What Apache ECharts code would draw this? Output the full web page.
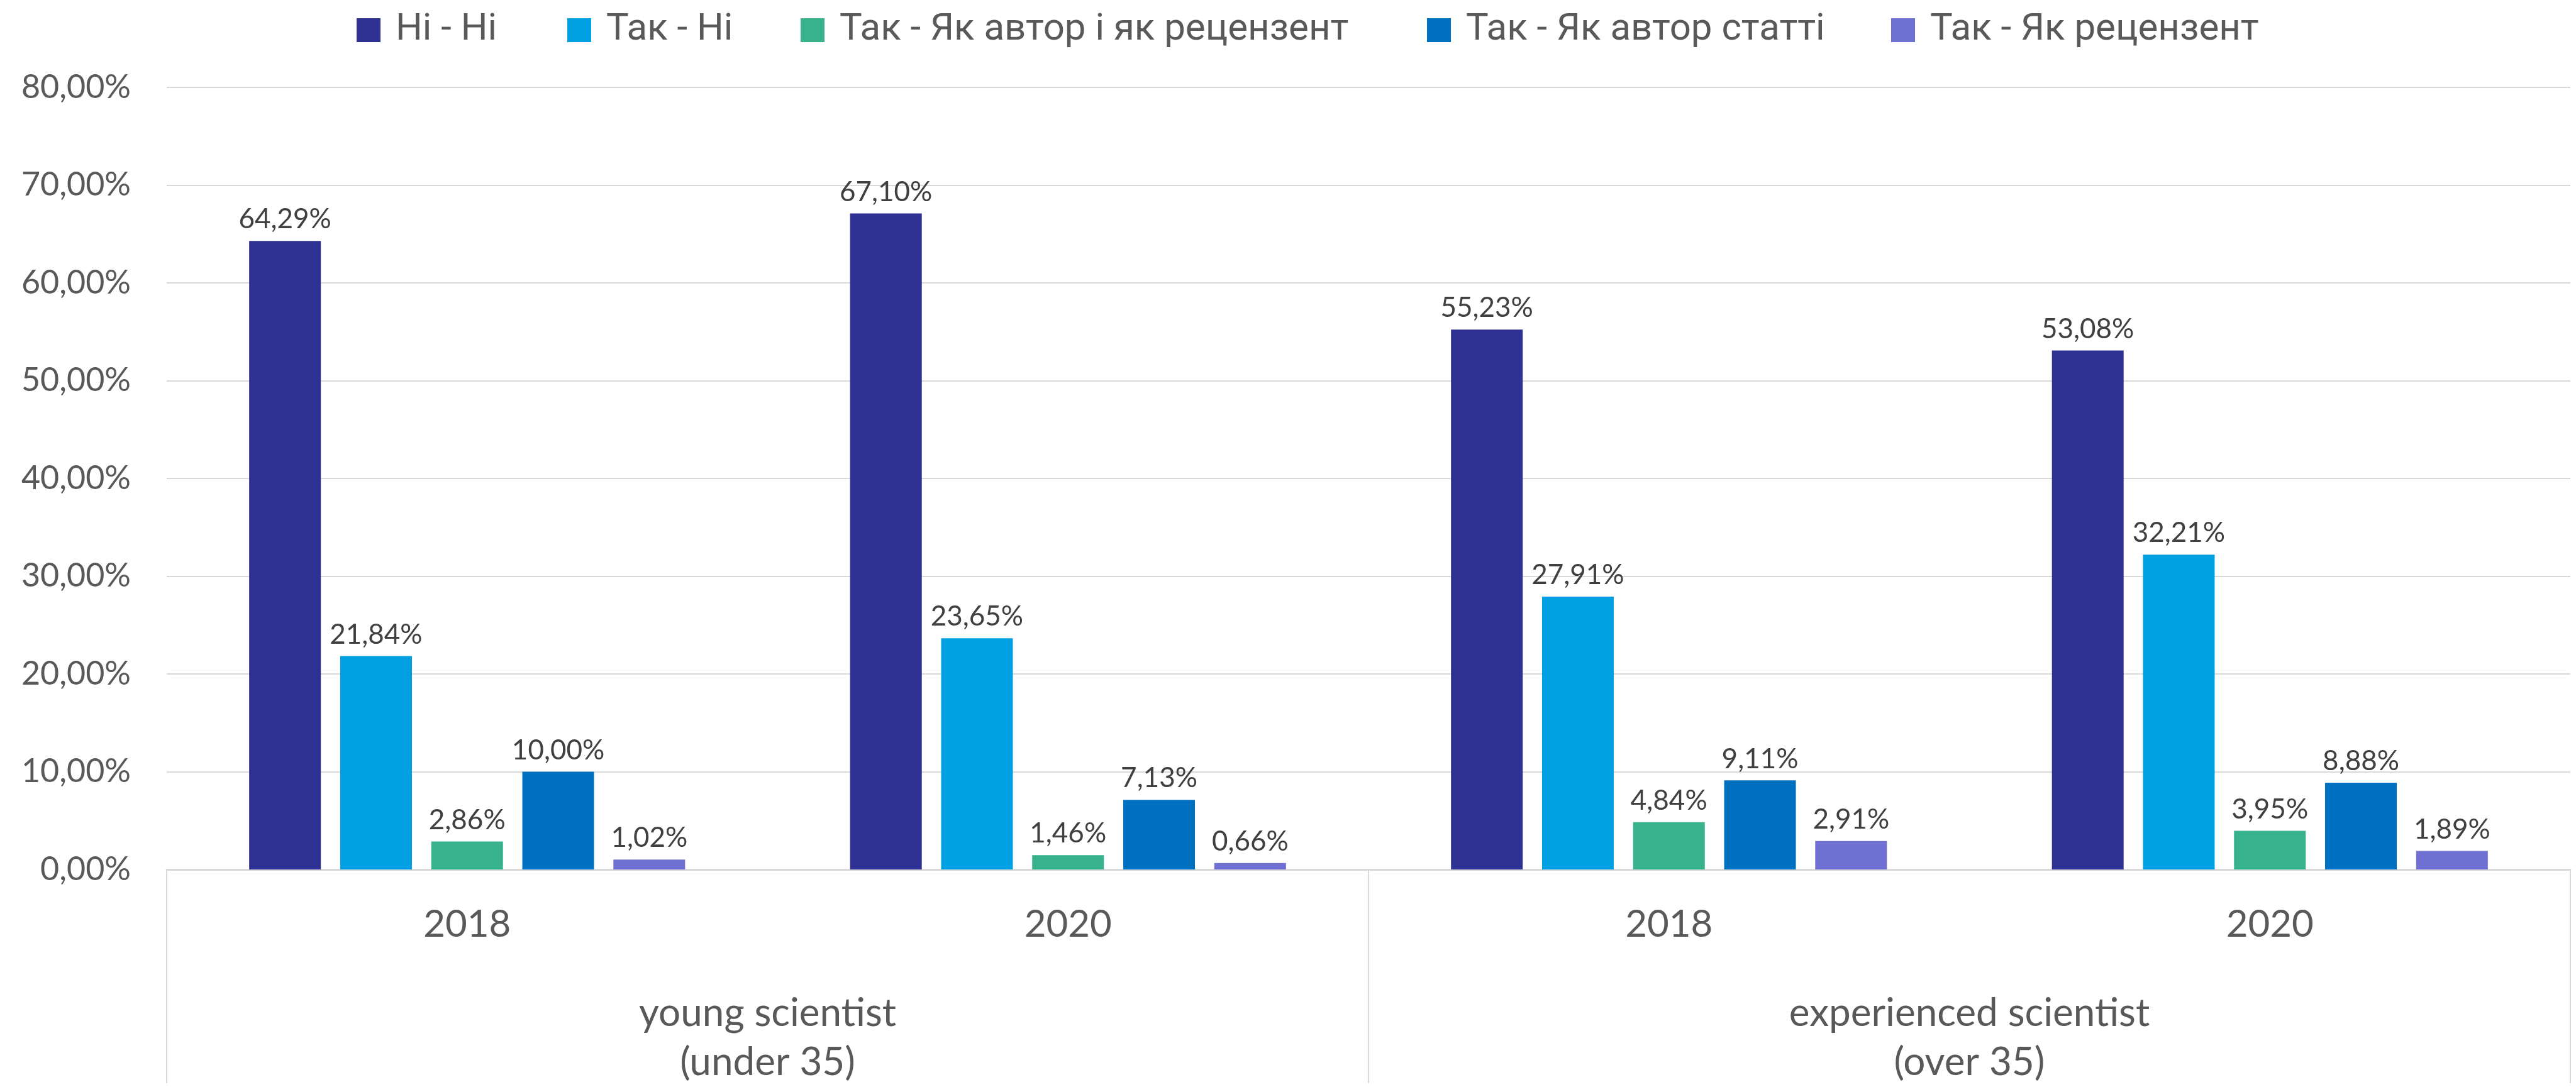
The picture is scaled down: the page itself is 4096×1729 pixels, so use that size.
<!DOCTYPE html>
<html>
<head>
<meta charset="utf-8">
<script src="https://cdn.jsdelivr.net/npm/echarts@6/dist/echarts.min.js"></script>
<style>
html,body{margin:0;padding:0;background:#fff;}
#chart{width:4096px;height:1729px;}
</style>
</head>
<body>
<div id="chart"></div>
<script>
const years = ['2018', '2020', '2018', '2020'];
const groups = ['young scientist\n(under 35)', 'experienced scientist\n(over 35)'];
const seriesNames = ['Ні - Ні', 'Так - Ні', 'Так - Як автор і як рецензент', 'Так - Як автор статті', 'Так - Як рецензент'];
const niNi = [64.29, 67.10, 55.23, 53.08];
const takNi = [21.84, 23.65, 27.91, 32.21];
const takAvtorIRecenzent = [2.86, 1.46, 4.84, 3.95];
const takAvtorStatti = [10.00, 7.13, 9.11, 8.88];
const takRecenzent = [1.02, 0.66, 2.91, 1.89];
const yTicks = [0, 10, 20, 30, 40, 50, 60, 70, 80];

const colors = ['#2E3192', '#00A0E3', '#37B28C', '#0070C0', '#7070D2'];
const values = [niNi, takNi, takAvtorIRecenzent, takAvtorStatti, takRecenzent];
const legendLefts = [562, 897, 1268, 2264, 3002];
const FONT = 'Lato, "Noto Sans", sans-serif';
const LEGEND_FONT = 'Roboto, "Noto Sans", sans-serif';
const fmt = v => v.toFixed(2).replace('.', ',') + '%';

const chart = echarts.init(document.getElementById('chart'));
chart.setOption({
  animation: false,
  color: colors,
  legend: seriesNames.map((name, i) => ({
    top: 13,
    left: legendLefts[i],
    itemWidth: 38,
    itemHeight: 38,
    icon: 'rect',
    textStyle: { fontFamily: LEGEND_FONT, fontSize: 60, lineHeight: 60, color: '#595959', padding: [0, 0, 0, 19] },
    data: [name]
  })),
  grid: { left: 265, right: 9, top: 139, bottom: 338, containLabel: false },
  xAxis: [
    {
      type: 'category',
      data: years,
      position: 'bottom',
      axisLine: { show: true, lineStyle: { color: '#D9D9D9', width: 3 } },
      axisTick: { show: false },
      axisLabel: { fontFamily: FONT, fontSize: 60, color: '#595959', margin: 58 }
    },
    {
      type: 'category',
      data: groups,
      position: 'bottom',
      axisLine: { show: false },
      axisTick: { show: true, length: 340, interval: 0, lineStyle: { color: '#D9D9D9', width: 2 } },
      axisLabel: { fontFamily: FONT, fontSize: 62, color: '#595959', margin: 190, lineHeight: 78, interval: 0 }
    }
  ],
  yAxis: {
    type: 'value',
    min: yTicks[0],
    max: yTicks[yTicks.length - 1],
    interval: 10,
    axisLine: { show: false },
    axisTick: { show: false },
    splitLine: { lineStyle: { color: '#D9D9D9', width: 2 } },
    axisLabel: { fontFamily: FONT, fontSize: 52, color: '#595959', margin: 57, formatter: v => fmt(v) }
  },
  series: seriesNames.map((name, i) => ({
    name: name,
    type: 'bar',
    xAxisIndex: 0,
    data: values[i],
    barWidth: 114,
    barGap: '27%',
    itemStyle: { color: colors[i] },
    label: {
      show: true,
      position: 'top',
      distance: 12,
      fontFamily: FONT,
      fontSize: 44,
      color: '#404040',
      formatter: p => fmt(p.value)
    }
  }))
});
</script>
</body>
</html>
